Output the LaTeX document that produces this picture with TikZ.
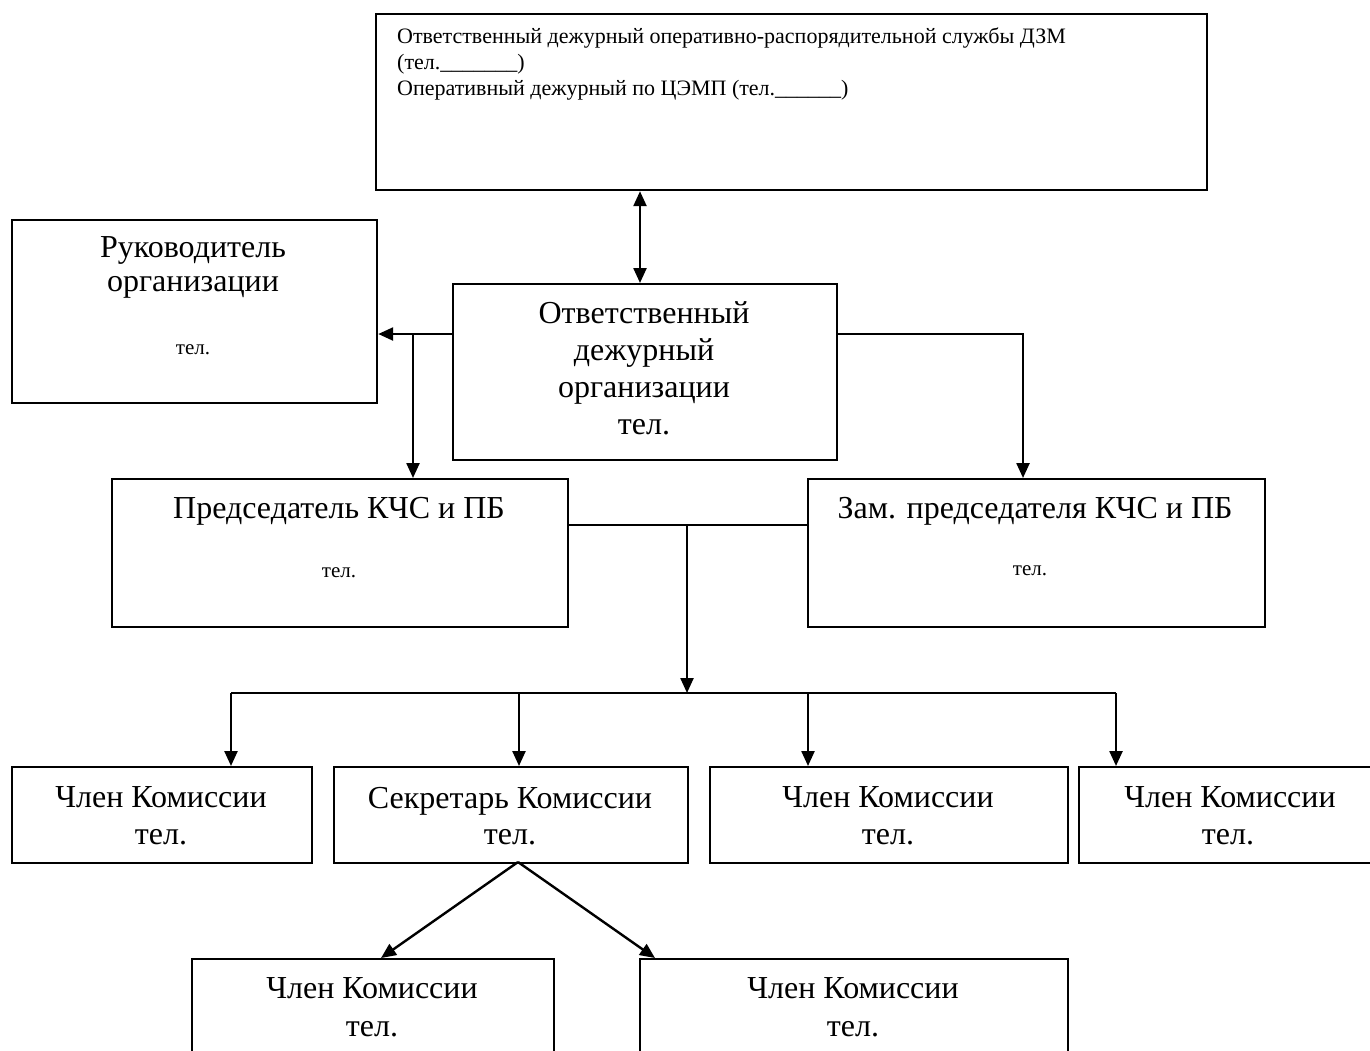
\documentclass[tikz,border=0pt]{standalone}
\usepackage{fontspec}
\setmainfont{Liberation Serif}
\usetikzlibrary{arrows.meta}
\begin{document}
\begin{tikzpicture}[x=1pt,y=-1pt,
  box/.style={draw, line width=2.2pt, rectangle, inner sep=0pt, anchor=north west},
  big/.style={font=\fontsize{32}{37}\selectfont, inner sep=0pt},
  small/.style={font=\fontsize{21}{25}\selectfont, inner sep=0pt},
  toptext/.style={font=\fontsize{22}{26}\selectfont, inner sep=0pt, align=left, anchor=north west},
  link/.style={line width=2.4pt},
  arr/.style={link, -{Triangle[length=15pt,width=13pt]}},
  dblarr/.style={link, {Triangle[length=15pt,width=13pt]}-{Triangle[length=15pt,width=13pt]}}]
\useasboundingbox (0,0) rectangle (1370,1050);
\clip (0,0) rectangle (1370,1050);
% boxes
\node[box, minimum width=831pt, minimum height=176pt] (top) at (375,13) {};
\node[box, minimum width=365pt, minimum height=183pt] (ruk) at (11,219) {};
\node[box, minimum width=384pt, minimum height=176pt] (otv) at (452,283) {};
\node[box, minimum width=456pt, minimum height=148pt] (pred) at (111,478) {};
\node[box, minimum width=457pt, minimum height=148pt] (zam) at (807,478) {};
\node[box, minimum width=300pt, minimum height=96pt] (m1) at (11,766) {};
\node[box, minimum width=354pt, minimum height=96pt] (sec) at (333,766) {};
\node[box, minimum width=358pt, minimum height=96pt] (m3) at (709,766) {};
\node[box, minimum width=320pt, minimum height=96pt] (m4) at (1078,766) {};
\node[box, minimum width=362pt, minimum height=130pt] (b1) at (191,958) {};
\node[box, minimum width=428pt, minimum height=130pt] (b2) at (639,958) {};
% texts
\node[toptext] (ttop) at (397,28) {Ответственный дежурный оперативно-распорядительной службы ДЗМ\\(тел.\_\_\_\_\_\_\_)\\Оперативный дежурный по ЦЭМП (тел.\_\_\_\_\_\_)};
\node[big] (truk1) at (193,250) {Руководитель};
\node[big] (truk2) at (193,287) {организации};
\node[small] (truk3) at (193,350) {тел.};
\node[big, align=center] (totv) at (644,368) {Ответственный\\дежурный\\организации\\тел.};
\node[big] (tpred1) at (339,511) {Председатель КЧС и ПБ};
\node[small] (tpred2) at (339,573) {тел.};
\node[big] (tzam1) at (1035,511) {Зам. председателя КЧС и ПБ};
\node[small] (tzam2) at (1030,571) {тел.};
\node[big] (tm1a) at (161,797) {Член Комиссии};
\node[big] (tm1b) at (161,837) {тел.};
\node[big] (tseca) at (510,801) {Секретарь Комиссии};
\node[big] (tsecb) at (510,837) {тел.};
\node[big] (tm3a) at (888,797) {Член Комиссии};
\node[big] (tm3b) at (888,837) {тел.};
\node[big] (tm4a) at (1230,797) {Член Комиссии};
\node[big] (tm4b) at (1228,837) {тел.};
\node[big] (tb1a) at (372,988) {Член Комиссии};
\node[big] (tb1b) at (372,1029) {тел.};
\node[big] (tb2a) at (853,988) {Член Комиссии};
\node[big] (tb2b) at (853,1029) {тел.};
% connectors
\coordinate (dx) at (640,0);
\draw[dblarr] (top.south -| dx) -- (otv.north -| dx);
\coordinate (a1) at (452,334);
\draw[arr] (a1) -- (a1 -| ruk.east);
\coordinate (b0) at (413,334);
\draw[arr] (b0) -- (b0 |- pred.north);
\coordinate (c1) at (836,334);
\coordinate (c2) at (1023,334);
\draw[arr] (c1) -- (c2) -- (c2 |- zam.north);
\coordinate (mj) at (687,525);
\draw[link] (pred.east |- mj) -- (zam.west |- mj);
\coordinate (bus) at (687,693);
\draw[arr] (mj) -- (bus);
\coordinate (busl) at (231,693);
\coordinate (busr) at (1116,693);
\coordinate (busb) at (519,693);
\coordinate (busc) at (808,693);
\draw[link] (busl) -- (busr);
\draw[arr] (busl) -- (busl |- m1.north);
\draw[arr] (busb) -- (busb |- sec.north);
\draw[arr] (busc) -- (busc |- m3.north);
\draw[arr] (busr) -- (busr |- m4.north);
\coordinate (sp) at (518,862);
\coordinate (t1) at (381,958);
\coordinate (t2) at (655,958);
\draw[arr] (sp) -- (t1);
\draw[arr] (sp) -- (t2);
\end{tikzpicture}
\end{document}
